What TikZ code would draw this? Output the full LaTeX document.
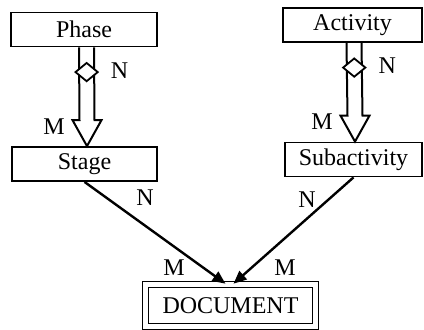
\documentclass[tikz,border=0pt]{standalone}
\usepackage{fontspec}
\setmainfont{Liberation Serif}
\usetikzlibrary{arrows.meta,positioning,calc,shapes.geometric}

\begin{document}
\begin{tikzpicture}[
    x=0.5pt, y=-0.5pt,
    font=\fontsize{12}{14}\selectfont,
    entity/.style={rectangle, draw, line width=0.9pt, inner sep=0pt,
                   minimum width=#1, minimum height=17pt},
    weak/.style={rectangle, draw, line width=0.8pt, double, double distance=2.2pt,
                 inner sep=0pt, minimum width=85pt, minimum height=21pt},
    hollow/.style={line width=1pt, line join=miter},
    relship/.style={diamond, draw, fill=white, line width=0.9pt, inner sep=0pt,
                    minimum width=11.5pt, minimum height=9.5pt},
    flow/.style={-{Triangle[length=6.5pt,width=5.5pt]}, line width=1.2pt},
    card/.style={inner sep=0pt}
  ]
\useasboundingbox (0,0) rectangle (424,329);

% ---------------- entities ----------------
\node[entity=73pt]   (phase)    at (84, 29.5)   {Phase};
\node[entity=72.5pt] (stage)    at (84.5, 164)  {Stage};
\node[entity=69.5pt] (activity) at (352.5, 25)  {Activity};
\node[entity=68.5pt] (subact)   at (353.5, 159.5) {Subactivity};
\node[weak]          (document) at (230.5, 305.5) {DOCUMENT};

% ---------------- hollow composition arrows ----------------
% half shaft 7.5, half head 14.5, head length 26
\foreach \a/\b/\s in {phase/stage/2.5, activity/subact/1.5}{
  \draw[hollow] ($(\a.south)+(\s-7.5,0)$) -- ($(\b.north)+(\s-7.5,-26)$)
    -- ($(\b.north)+(\s-14.5,-26)$) -- ($(\b.north)+(\s,0)$)
    -- ($(\b.north)+(\s+14.5,-26)$) -- ($(\b.north)+(\s+7.5,-26)$)
    -- ($(\a.south)+(\s+7.5,0)$);
  \node[relship] (d\a) at ($($(\a.south)!0.25!(\b.north)$)+(\s,0)$) {};
  \node[card] (n\a) at ($(d\a)+(33,-1.5)$) {N};
  \node[card] (m\a) at ($(\b.north)+(\s-33,-19.5)$) {M};
}

% ---------------- links to document ----------------
\draw[flow] (stage.south) -- ($(document.north)+(-5,0)$);
\draw[flow] (subact.south) -- ($(document.north)+(3,0)$);

\node[card] (nl) at (145, 198) {N};
\node[card] (ml) at (174, 268) {M};
\node[card] (nr) at (307, 200) {N};
\node[card] (mr) at (285, 268) {M};

\end{tikzpicture}
\end{document}
